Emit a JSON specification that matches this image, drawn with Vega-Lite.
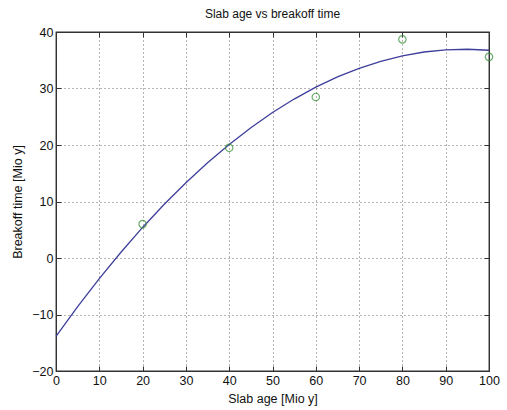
{
  "$schema": "https://vega.github.io/schema/vega-lite/v6.json",
  "width": 433,
  "height": 339,
  "autosize": {"type": "none"},
  "padding": {"left": 56, "top": 32, "right": 18, "bottom": 39},
  "background": "white",
  "title": {"text": "Slab age vs breakoff time", "fontSize": 12, "font": "Liberation Sans", "fontWeight": "normal", "color": "#111", "offset": 5},
  "config": {
    "view": {"stroke": "#333", "strokeWidth": 1.3},
    "axis": {
      "labelFont": "Liberation Sans", "labelFontSize": 12.5, "labelColor": "#111",
      "titleFont": "Liberation Sans", "titleFontSize": 12.5, "titleFontWeight": "normal", "titleColor": "#111",
      "domainColor": "#333", "tickColor": "#333", "tickSize": -5,
      "gridColor": "#444", "gridDash": [1, 3], "gridOpacity": 0.8, "gridWidth": 1
    }
  },
  "datasets": {
    "fit": [
      {"age": 0, "t": -13.86}, {"age": 5, "t": -8.62}, {"age": 10, "t": -3.66}, {"age": 15, "t": 1.02},
      {"age": 20, "t": 5.41}, {"age": 25, "t": 9.51}, {"age": 30, "t": 13.33}, {"age": 35, "t": 16.86},
      {"age": 40, "t": 20.10}, {"age": 45, "t": 23.06}, {"age": 50, "t": 25.74}, {"age": 55, "t": 28.13},
      {"age": 60, "t": 30.23}, {"age": 65, "t": 32.05}, {"age": 70, "t": 33.58}, {"age": 75, "t": 34.82},
      {"age": 80, "t": 35.78}, {"age": 85, "t": 36.46}, {"age": 90, "t": 36.85}, {"age": 95, "t": 36.95},
      {"age": 100, "t": 36.77}
    ],
    "obs": [
      {"age": 20, "t": 6.0}, {"age": 40, "t": 19.5}, {"age": 60, "t": 28.5}, {"age": 80, "t": 38.7}, {"age": 100, "t": 35.6}
    ]
  },
  "layer": [
    {
      "data": {"name": "fit"},
      "mark": {"type": "line", "color": "#3e3e9c", "strokeWidth": 1.3},
      "encoding": {
        "x": {"field": "age", "type": "quantitative", "scale": {"domain": [0, 100], "nice": false},
              "axis": {"title": "Slab age [Mio y]", "values": [0,10,20,30,40,50,60,70,80,90,100], "labelPadding": 8, "titlePadding": 6, "labelFlush": false}},
        "y": {"field": "t", "type": "quantitative", "scale": {"domain": [-20, 40], "nice": false},
              "axis": {"title": "Breakoff time [Mio y]", "values": [-20,-10,0,10,20,30,40], "labelPadding": 8, "titlePadding": 7}}
      }
    },
    {
      "data": {"name": "obs"},
      "mark": {"type": "point", "shape": "circle", "filled": false, "color": "#2f8a2f", "size": 55, "strokeWidth": 1.2, "clip": false},
      "encoding": {
        "x": {"field": "age", "type": "quantitative", "scale": {"domain": [0, 100], "nice": false},
              "axis": {"orient": "top", "title": null, "labels": false, "grid": false, "values": [0,10,20,30,40,50,60,70,80,90,100]}},
        "y": {"field": "t", "type": "quantitative", "scale": {"domain": [-20, 40], "nice": false},
              "axis": {"orient": "right", "title": null, "labels": false, "grid": false, "values": [-20,-10,0,10,20,30,40]}}
      }
    }
  ],
  "resolve": {"axis": {"x": "independent", "y": "independent"}}
}
